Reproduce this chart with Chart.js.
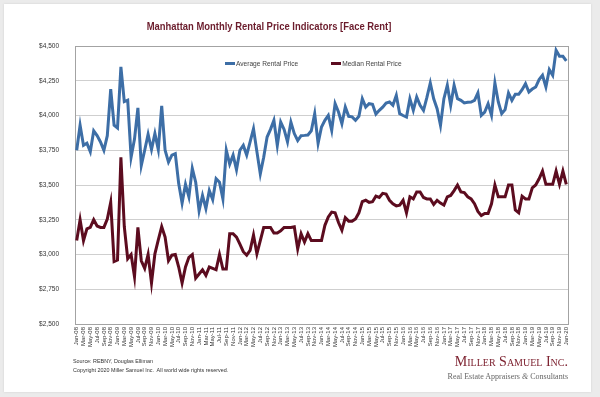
<!DOCTYPE html>
<html lang="en">
  <head>
    <meta charset="UTF-8" />
    <script src="https://cdn.jsdelivr.net/npm/chart.js@4.4.0/dist/chart.umd.min.js"></script>
    <title>Manhattan Monthly Rental Price Indicators</title>
    <style>
      body {
        margin: 0;
        padding: 0;
        width: 600px;
        height: 397px;
        overflow: hidden;
        position: relative;
        background: #ebebeb;
      }

      .card {
        position: absolute;
        left: 4px;
        top: 4px;
        width: 587px;
        height: 388px;
        background: white;
        box-shadow: 0 0 2px #cfcfcf;
      }

      canvas {
        position: absolute;
        left: 0;
        top: 0;
      }

      /* the original uses a narrow face; squeeze Liberation Sans to match */
      .title {
        position: absolute;
        left: 0;
        top: 20px;
        width: 538px;
        text-align: center;
        font: bold 11.5px 'Liberation Sans', Arial, sans-serif;
        color: #6b1c2c;
        transform: scaleX(0.82);
        transform-origin: 269px 0;
        white-space: nowrap;
      }

      .legend {
        position: absolute;
        left: 225px;
        top: 59px;
        display: flex;
        gap: 33px;
        font: 6.6px 'Liberation Sans', Arial, sans-serif;
        color: #444;
        line-height: 10px;
      }

      .legend span.mark {
        display: inline-block;
        width: 10px;
        height: 3px;
        vertical-align: middle;
        margin-right: 1px;
        position: relative;
        top: -1px;
      }

      .source {
        position: absolute;
        left: 73px;
        top: 357px;
        font: 5.4px 'Liberation Sans', Arial, sans-serif;
        line-height: 8.6px;
        color: #333;
      }

      .logo {
        position: absolute;
        right: 32px;
        top: 353px;
        text-align: right;
        font-family: 'Liberation Serif', 'DejaVu Serif', serif;
      }

      .logo .name {
        font-size: 14px;
        font-variant: small-caps;
        color: #7e2331;
        line-height: 18px;
      }

      .logo .sub {
        font-size: 8px;
        color: #666;
        line-height: 10px;
        margin-top: 1px;
      }
    </style>
  </head>
  <body>
    <div class="card"></div>
    <canvas id="rentChart" width="600" height="397"></canvas>
    <div class="title">Manhattan Monthly Rental Price Indicators [Face Rent]</div>
    <div class="legend" id="legend"></div>
    <div class="source">
      Source: REBNY, Douglas Elliman<br />
      Copyright 2020 Miller Samuel Inc.&nbsp; All world wide rights reserved.
    </div>
    <div class="logo">
      <div class="name">Miller Samuel Inc.</div>
      <div class="sub">Real Estate Appraisers <i>&amp;</i> Consultants</div>
    </div>
    <script>
      const months = ['Jan', 'Feb', 'Mar', 'Apr', 'May', 'Jun', 'Jul', 'Aug', 'Sep', 'Oct', 'Nov', 'Dec']
      const years = ['08', '09', '10', '11', '12', '13', '14', '15', '16', '17', '18', '19', '20']

      // Jan-08 .. Jan-20
      const categories = []
      years.forEach((yy) => {
        months.forEach((m) => {
          if (yy === '20' && m !== 'Jan') return
          categories.push(m + '-' + yy)
        })
      })

      const avgRent = [
        3750, 3930, 3785, 3800, 3740, 3890, 3855, 3810, 3750, 3855, 4190, 3930,
        3910, 4350, 4100, 4110, 3700, 3830, 4055, 3640, 3750, 3865, 3755, 3870,
        3755, 4070, 3750, 3665, 3715, 3725, 3510, 3370, 3505, 3415, 3620, 3520,
        3315, 3425, 3330, 3460, 3395, 3545, 3520, 3400, 3750, 3650, 3715, 3610,
        3750, 3785, 3715, 3810, 3905, 3740, 3580, 3700, 3845, 3900, 3965, 3785,
        3953, 3900, 3810, 3953, 3870, 3820, 3855, 3857, 3860, 3890, 4013, 3800,
        3917, 3965, 4000, 3893, 4085, 4025, 3941, 4061, 3994, 3990, 3965, 3994,
        4121, 4060, 4085, 4080, 4010, 4037, 4060, 4090, 4097, 4073, 4145, 4013,
        4000, 3989, 4121, 4037, 4133, 4073, 4037, 4130, 4234, 4120, 4049, 3929,
        4121, 4217, 4073, 4217, 4121, 4109, 4090, 4095, 4097, 4109, 4162, 4001,
        4025, 4085, 4001, 4234, 4097, 4013, 4042, 4162, 4109, 4152, 4152, 4186,
        4229, 4169, 4190, 4205, 4258, 4289, 4205, 4330, 4289, 4469, 4426, 4426,
        4393,
      ]

      const medianRent = [
        3100, 3250, 3100, 3185, 3195, 3250, 3205, 3195, 3195, 3255, 3375, 2950,
        2960, 3700, 3200, 2970, 3000, 2840, 3195, 2955, 2900, 3000, 2795, 3005,
        3105, 3200, 3125, 2955, 2995, 3000, 2910, 2795, 2910, 2980, 3000, 2830,
        2860, 2890, 2850, 2910, 2900, 2890, 3000, 2895, 2895, 3150, 3150, 3125,
        3075, 3020, 2995, 3030, 3140, 3005, 3100, 3195, 3195, 3195, 3155, 3155,
        3170, 3195, 3195, 3195, 3200, 3040, 3150, 3090, 3150, 3100, 3100, 3100,
        3100, 3210, 3270, 3305, 3300, 3230, 3175, 3265, 3240, 3240, 3255, 3300,
        3380, 3390, 3375, 3380, 3420, 3410, 3440, 3435, 3390, 3365, 3350, 3355,
        3390, 3300, 3415, 3400, 3450, 3450, 3410, 3400, 3400, 3360, 3390, 3370,
        3355, 3415, 3425, 3460, 3500, 3450, 3445, 3415, 3400, 3365, 3310, 3280,
        3295, 3295, 3365, 3500, 3415, 3415, 3415, 3500, 3500, 3320, 3300, 3420,
        3400, 3400, 3480, 3500, 3545, 3600, 3505, 3505, 3505, 3600, 3505, 3600,
        3505,
      ]

      const yMin = 2500
      const yMax = 4500
      const yStep = 250

      const sans = "'Liberation Sans', Arial, sans-serif"

      // box around the plot area (top and right sides show in the original)
      const plotFrame = {
        id: 'plotFrame',
        beforeDatasetsDraw(chart) {
          const { ctx, chartArea } = chart
          ctx.save()
          ctx.strokeStyle = '#a3a3a3'
          ctx.lineWidth = 1
          ctx.strokeRect(
            Math.round(chartArea.left) + 0.5,
            Math.round(chartArea.top) + 0.5,
            Math.round(chartArea.width),
            Math.round(chartArea.height)
          )
          ctx.restore()
        },
      }

      const ctx = document.getElementById('rentChart').getContext('2d')
      const chart = new Chart(ctx, {
        type: 'line',
        data: {
          labels: categories,
          datasets: [
            {
              label: 'Average Rental Price',
              data: avgRent,
              borderColor: '#3d6ea6',
              backgroundColor: '#3d6ea6',
              borderWidth: 3,
              pointRadius: 0,
              tension: 0,
            },
            {
              label: 'Median Rental Price',
              data: medianRent,
              borderColor: '#5c0c1f',
              backgroundColor: '#5c0c1f',
              borderWidth: 3,
              pointRadius: 0,
              tension: 0,
            },
          ],
        },
        options: {
          responsive: false,
          animation: false,
          layout: {
            padding: { left: 15, right: 32, top: 46, bottom: 43 },
          },
          plugins: {
            title: { display: false },
            tooltip: { enabled: false },
            legend: { display: false },
          },
          scales: {
            x: {
              offset: true,
              grid: { display: false, drawTicks: false },
              border: { display: true, color: '#a3a3a3' },
              afterFit: (scale) => {
                scale.height = 30
              },
              ticks: {
                autoSkip: false,
                minRotation: 90,
                maxRotation: 90,
                padding: 3,
                color: '#333',
                font: { family: sans, size: 6 },
                callback: (value, index) => (index % 2 === 0 ? categories[index] : ''),
              },
            },
            y: {
              min: yMin,
              max: yMax,
              afterFit: (scale) => {
                scale.width = 60
              },
              grid: { color: '#cfcfcf', drawTicks: false },
              border: { display: true, color: '#a3a3a3' },
              ticks: {
                stepSize: yStep,
                padding: 16,
                color: '#333',
                font: { family: sans, size: 6.5 },
                callback: (value) => '$' + value.toLocaleString('en-US'),
              },
            },
          },
        },
        plugins: [plotFrame],
      })

      // legend sits inside the plot, built from the chart's datasets
      const legendEl = document.getElementById('legend')
      chart.data.datasets.forEach((ds) => {
        const item = document.createElement('div')
        const mark = document.createElement('span')
        mark.className = 'mark'
        mark.style.background = ds.borderColor
        item.appendChild(mark)
        item.appendChild(document.createTextNode(ds.label))
        legendEl.appendChild(item)
      })
    </script>
  </body>
</html>
